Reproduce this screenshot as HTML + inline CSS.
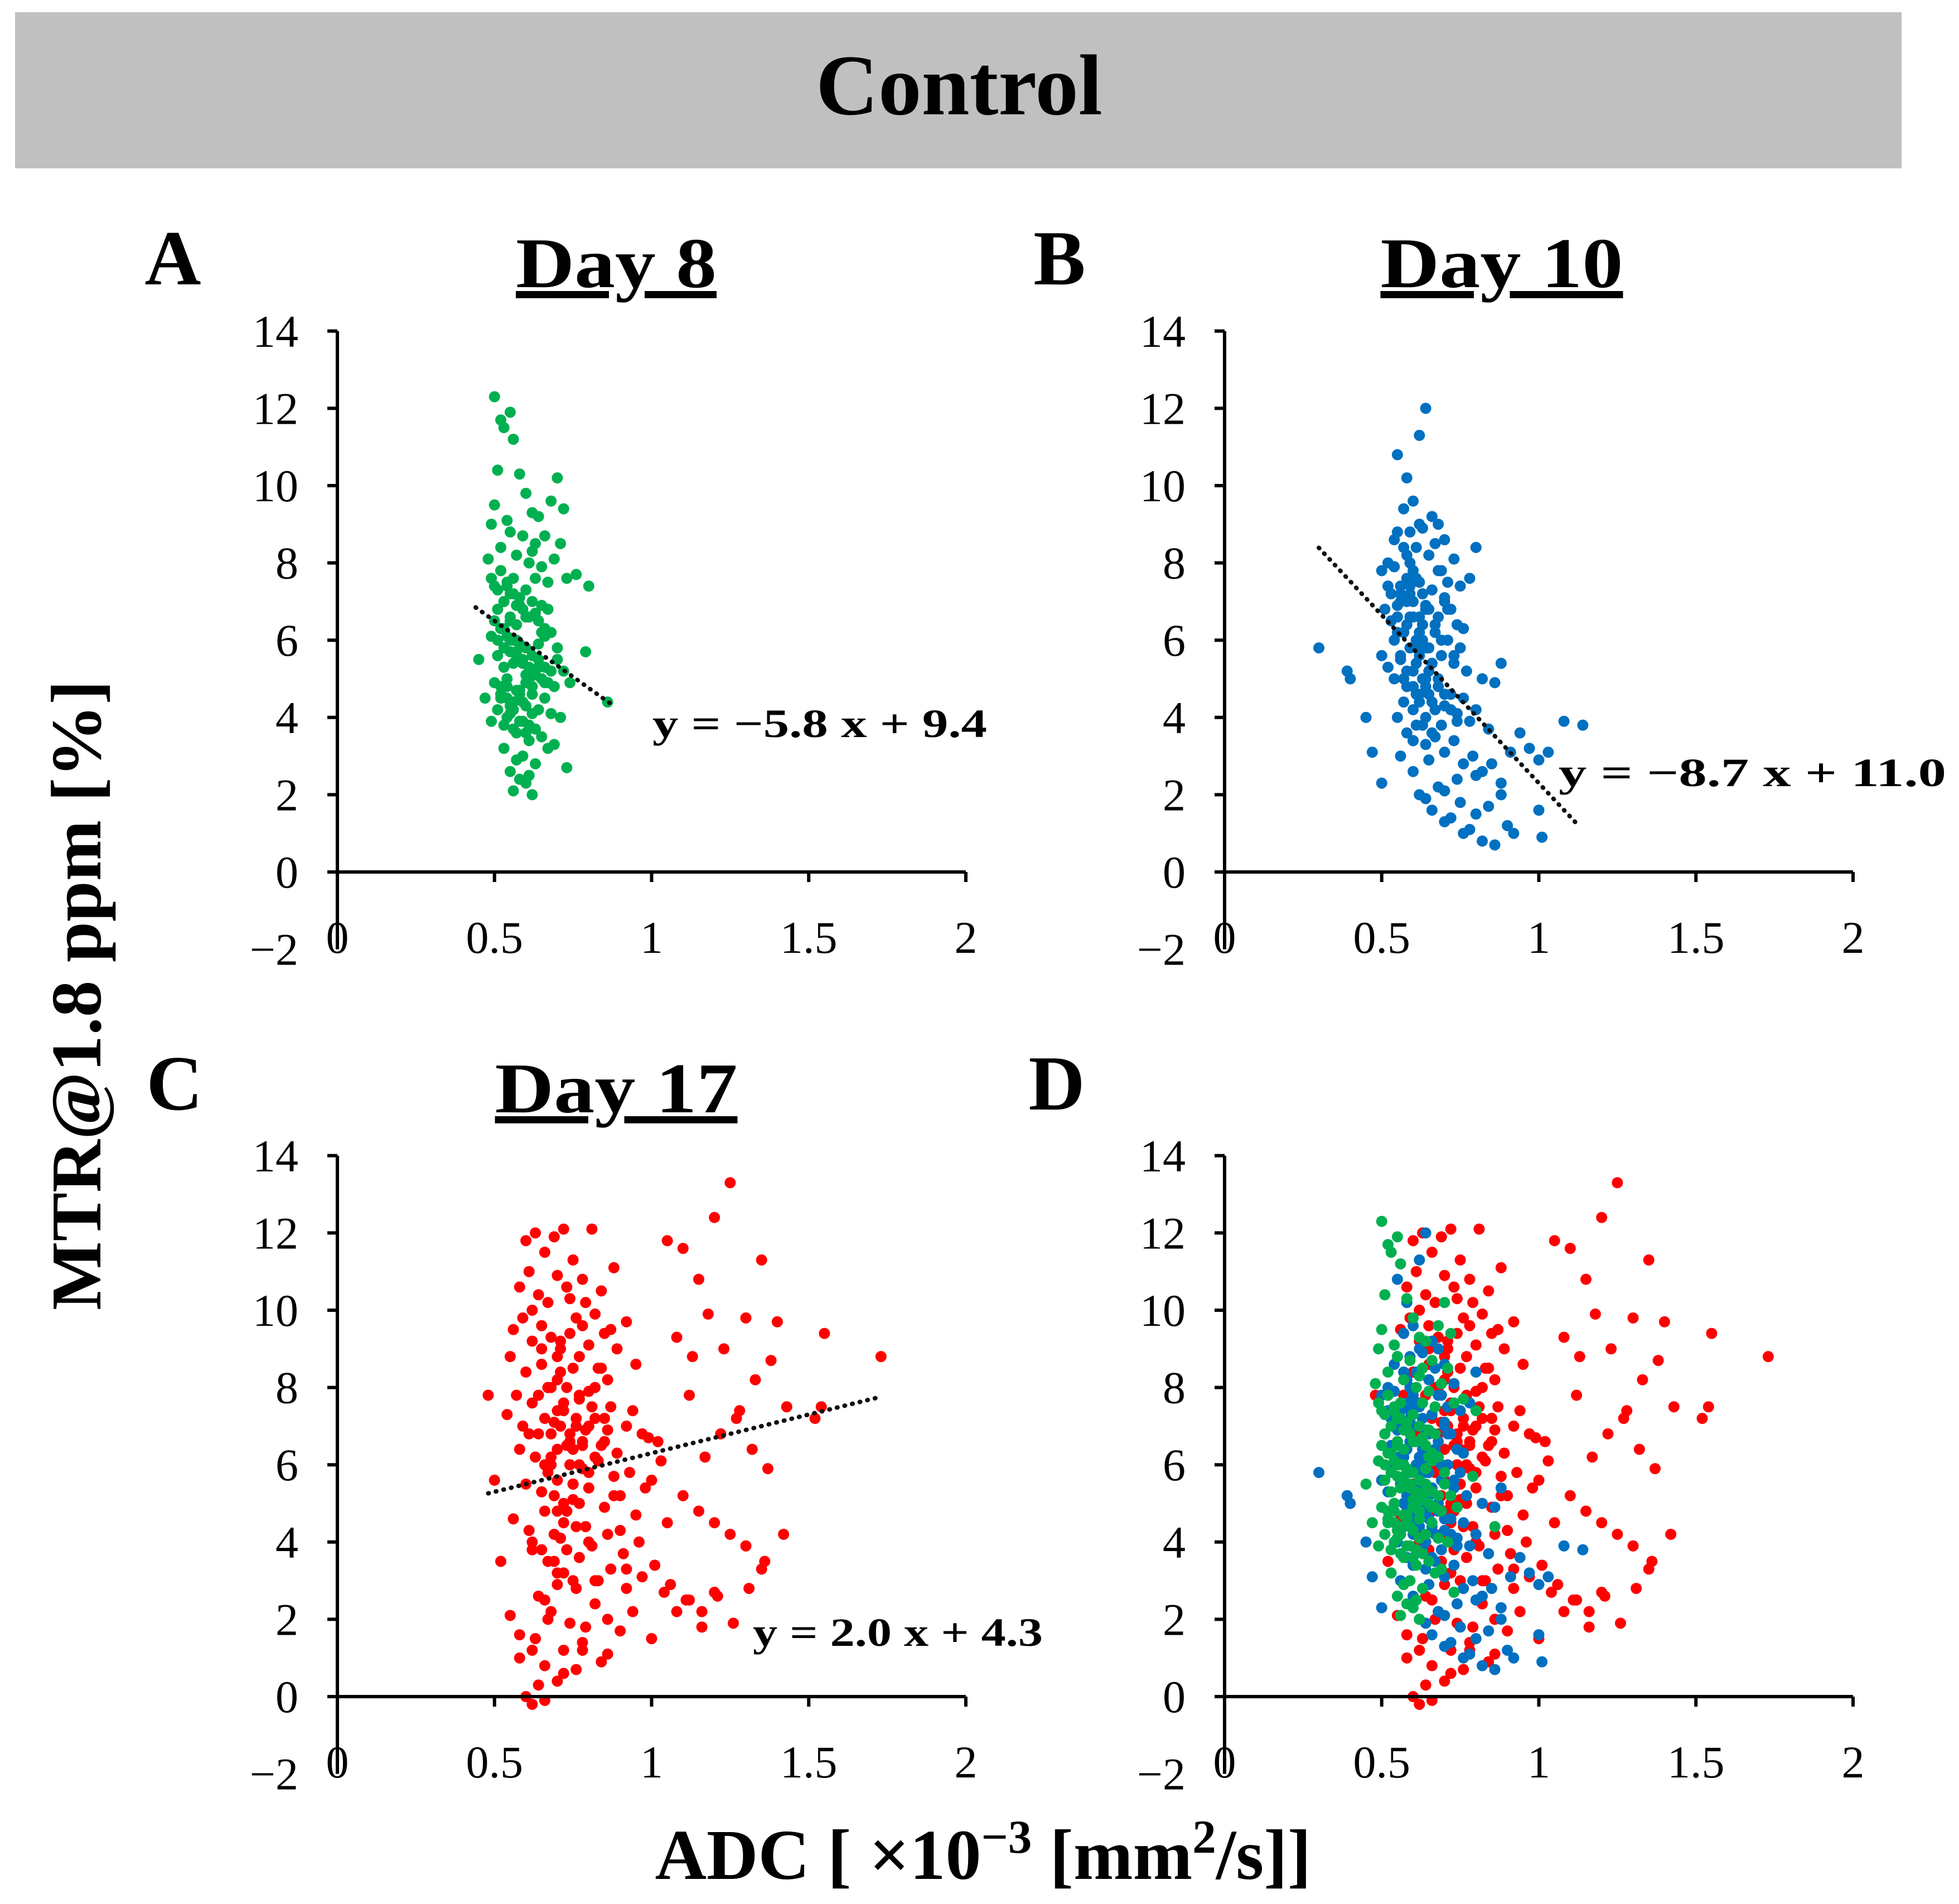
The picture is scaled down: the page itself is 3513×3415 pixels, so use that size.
<!DOCTYPE html>
<html><head><meta charset="utf-8"><style>
html,body{margin:0;padding:0;background:#fff;}
svg{display:block;font-family:"Liberation Serif",serif;}
</style></head><body>
<svg id="fig" width="3513" height="3415" viewBox="0 0 3513 3415" xmlns="http://www.w3.org/2000/svg">
<rect x="27" y="22" width="3383" height="280" fill="#c0c0c0"/>
<text x="1720" y="205" font-size="155" font-weight="bold" text-anchor="middle">Control</text>
<text x="310" y="510" font-size="140" font-weight="bold" text-anchor="middle">A</text>
<text x="1900" y="510" font-size="140" font-weight="bold" text-anchor="middle">B</text>
<text x="313" y="1990" font-size="140" font-weight="bold" text-anchor="middle">C</text>
<text x="1895" y="1990" font-size="140" font-weight="bold" text-anchor="middle">D</text>
<text x="1105" y="515" font-size="128" font-weight="bold" text-anchor="middle" text-decoration="underline" textLength="360" lengthAdjust="spacingAndGlyphs">Day 8</text>
<text x="2693" y="515" font-size="128" font-weight="bold" text-anchor="middle" text-decoration="underline" textLength="435" lengthAdjust="spacingAndGlyphs">Day 10</text>
<text x="1105" y="1995" font-size="128" font-weight="bold" text-anchor="middle" text-decoration="underline" textLength="435" lengthAdjust="spacingAndGlyphs">Day 17</text>
<text transform="translate(180,1785) rotate(-90)" font-size="128" font-weight="bold" text-anchor="middle" textLength="1130" lengthAdjust="spacingAndGlyphs">MTR@1.8 ppm [%]</text>
<text x="1763" y="3370" font-size="128" font-weight="bold" text-anchor="middle">ADC [ ×10<tspan baseline-shift="super" font-size="85">−3</tspan> [mm<tspan baseline-shift="super" font-size="85">2</tspan>/s]]</text>
<text x="1170" y="1322" font-size="72" font-weight="bold" textLength="600" lengthAdjust="spacingAndGlyphs">y = −5.8 x + 9.4</text>
<text x="2795" y="1410" font-size="72" font-weight="bold" textLength="695" lengthAdjust="spacingAndGlyphs">y = −8.7 x + 11.0</text>
<text x="1350" y="2952" font-size="72" font-weight="bold" textLength="520" lengthAdjust="spacingAndGlyphs">y = 2.0 x + 4.3</text>
</svg>
<script>
const xTicks = [0, 0.5, 1, 1.5, 2];
const xTickLabels = ["0", "0.5", "1", "1.5", "2"];
const yTicks = [-2, 0, 2, 4, 6, 8, 10, 12, 14];
const yTickLabels = ["−2", "0", "2", "4", "6", "8", "10", "12", "14"];

const day8X = [0.50,0.52,0.53,0.55,0.56,0.51,0.58,0.60,0.62,0.64,0.66,0.68,0.70,0.72,0.71,0.49,0.50,0.52,0.54,0.55,
0.57,0.59,0.61,0.63,0.65,0.67,0.69,0.73,0.76,0.80,0.48,0.49,0.51,0.52,0.53,0.54,0.55,0.56,0.57,0.58,
0.59,0.60,0.61,0.62,0.63,0.64,0.65,0.66,0.67,0.68,0.50,0.51,0.52,0.53,0.54,0.55,0.56,0.57,0.58,0.59,
0.60,0.61,0.62,0.63,0.64,0.65,0.66,0.67,0.68,0.69,0.50,0.52,0.54,0.56,0.58,0.60,0.62,0.64,0.66,0.68,
0.70,0.72,0.74,0.79,0.86,0.45,0.47,0.49,0.51,0.53,0.55,0.57,0.59,0.61,0.63,0.65,0.67,0.69,0.71,0.73,
0.53,0.55,0.57,0.59,0.61,0.63,0.56,0.58,0.60,0.62,0.54,0.56,0.58,0.60,0.62,0.64,0.55,0.57,0.66,0.70,
0.52,0.54,0.56,0.58,0.60,0.53,0.55,0.57,0.59,0.61,0.52,0.54,0.56,0.58,0.60,0.53,0.55,0.57,0.59,0.61,
0.52,0.54,0.56,0.58,0.60,0.53,0.55,0.57,0.59,0.61,0.50,0.51,0.63,0.64,0.62,0.65,0.49,0.66,0.62,0.51];
const day8Y = [12.3,11.7,11.5,11.9,11.2,10.4,10.3,9.8,9.3,9.2,8.7,9.6,10.2,9.4,8.5,9.0,9.5,8.4,9.1,8.8,
8.2,8.7,8.0,8.5,7.9,7.5,8.1,7.6,7.7,7.4,8.1,7.6,7.3,7.8,7.0,7.4,7.2,7.6,6.9,7.1,
6.8,7.3,6.6,7.0,6.7,6.5,6.9,6.3,6.8,6.2,6.5,6.0,6.3,5.8,6.1,5.7,6.0,5.5,5.9,5.4,
5.8,5.3,5.6,5.1,5.5,5.0,5.3,4.9,5.2,4.8,4.9,4.6,4.8,4.4,4.7,4.3,4.6,4.2,4.5,4.1,
5.5,5.2,4.9,5.7,4.4,5.5,4.5,3.9,4.2,3.8,4.1,3.6,3.9,3.4,3.7,3.5,3.2,3.3,4.0,2.7,
3.2,2.6,2.9,3.0,2.5,2.8,2.1,2.4,2.3,2.0,5.0,5.4,4.7,5.1,4.8,5.3,6.6,6.4,6.1,5.8,
7.8,7.5,7.2,6.9,6.6,6.3,6.0,5.7,5.4,5.1,4.8,4.5,4.2,3.9,3.6,7.0,6.5,6.0,5.5,5.0,
4.5,4.0,3.7,4.6,4.9,5.3,4.3,4.7,4.4,3.8,7.4,6.8,7.6,5.9,4.1,6.2,6.1,4.9,8.3,5.6];

const day10X = [0.55,0.58,0.60,0.62,0.64,0.66,0.68,0.70,0.57,0.59,0.61,0.63,0.65,0.67,0.69,0.71,0.73,0.75,0.52,0.54,
0.50,0.52,0.54,0.56,0.58,0.60,0.62,0.64,0.66,0.68,0.70,0.72,0.74,0.76,0.78,0.80,0.51,0.53,0.55,0.57,
0.59,0.61,0.63,0.65,0.67,0.69,0.71,0.73,0.75,0.77,0.50,0.52,0.54,0.56,0.58,0.60,0.62,0.64,0.66,0.68,
0.70,0.72,0.74,0.76,0.78,0.80,0.82,0.84,0.86,0.88,0.55,0.58,0.61,0.64,0.67,0.70,0.73,0.76,0.79,0.82,
0.85,0.88,0.91,0.94,0.97,1.00,1.03,1.08,1.14,0.30,0.39,0.40,0.45,0.47,0.50,0.60,0.65,0.70,0.75,0.80,
0.62,0.66,0.70,0.74,0.78,0.82,0.86,0.90,0.64,0.68,0.72,0.76,0.80,0.84,0.88,0.92,1.00,1.01,0.56,0.60,
0.56,0.58,0.60,0.62,0.64,0.57,0.59,0.61,0.63,0.65,0.58,0.60,0.62,0.64,0.66,0.55,0.57,0.59,0.61,0.63,
0.55,0.57,0.59,0.61,0.63,0.65,0.67,0.69,0.56,0.58,0.60,0.62,0.64,0.66,0.68,0.70,0.55,0.57,0.59,0.61,
0.63,0.65,0.67,0.69,0.56,0.58,0.60,0.62,0.64,0.66,0.68,0.70,0.72,0.54,0.71,0.73,0.53,0.74,0.62,0.60];
const day10Y = [10.8,10.2,9.6,11.3,12.0,9.2,9.0,8.6,9.4,8.8,8.4,8.9,8.2,8.5,7.8,7.5,8.1,7.4,8.0,8.6,
7.8,7.4,7.9,7.2,7.6,7.0,7.5,6.9,7.3,6.6,7.0,6.8,6.4,6.3,7.6,8.4,6.8,6.5,6.9,6.2,
6.6,6.0,6.4,5.8,6.2,5.6,6.0,5.4,5.8,5.2,5.6,5.3,5.0,5.5,4.8,5.2,4.6,5.0,4.4,4.8,
4.3,4.6,4.1,4.5,3.9,4.2,5.0,3.7,4.9,5.4,4.0,3.6,3.8,3.3,3.5,3.1,3.4,2.8,3.0,2.6,
2.8,2.3,3.1,3.6,3.2,2.9,3.1,3.9,3.8,5.8,5.2,5.0,4.0,3.1,2.3,2.6,2.9,2.1,1.8,1.5,
2.0,1.6,1.3,2.4,1.1,0.8,0.7,1.2,1.9,2.2,1.4,1.0,2.5,1.7,2.0,1.0,1.6,0.9,3.0,3.4,
7.0,6.4,7.8,5.6,6.8,5.0,7.2,4.6,6.0,5.2,8.2,4.2,6.6,4.8,5.4,6.2,4.4,7.4,5.8,3.8,
8.8,8.4,8.0,7.6,7.2,6.8,6.4,6.0,5.6,5.2,4.8,4.4,4.0,3.6,7.8,7.1,6.6,6.2,5.8,5.4,
5.0,4.6,4.2,3.8,7.4,7.0,6.6,6.2,5.8,5.4,5.0,4.6,4.2,6.0,6.8,5.6,7.2,3.9,9.0,3.4];

const day17X = [0.60,0.63,0.66,0.69,0.72,0.75,0.78,0.81,0.84,0.58,0.61,0.64,0.67,0.70,0.73,0.76,0.79,0.82,0.85,0.88,
0.56,0.59,0.62,0.65,0.68,0.71,0.74,0.77,0.80,0.83,0.86,0.89,0.92,0.95,0.55,0.60,0.65,0.70,0.75,0.80,
0.57,0.62,0.67,0.72,0.77,0.82,0.87,0.92,0.97,1.02,0.54,0.59,0.64,0.69,0.74,0.79,0.84,0.89,0.94,0.99,
0.58,0.63,0.68,0.73,0.78,0.83,0.88,0.93,0.98,1.03,0.60,0.65,0.70,0.75,0.80,0.85,0.90,0.95,1.00,1.05,
0.56,0.61,0.66,0.71,0.76,0.81,0.86,0.91,0.96,1.01,0.62,0.67,0.72,0.77,0.82,0.87,0.92,0.97,0.64,0.70,
1.05,1.10,1.15,1.20,1.25,1.30,1.35,1.40,1.08,1.13,1.18,1.23,1.28,1.33,1.38,1.43,1.12,1.17,1.22,1.27,
1.32,1.37,1.10,1.15,1.20,1.25,1.30,1.35,1.06,1.11,1.16,1.21,1.26,1.31,1.36,1.42,1.52,1.55,1.54,1.73,
0.48,0.50,0.52,0.55,0.58,0.62,0.66,0.70,0.74,0.78,0.82,0.86,0.90,0.94,1.00,1.04,1.08,1.12,1.16,1.20,
0.66,0.68,0.70,0.72,0.74,0.76,0.78,0.80,0.67,0.69,0.71,0.73,0.75,0.77,0.79,0.65,0.70,0.75,0.80,0.85,
0.68,0.70,0.72,0.74,0.76,0.71,0.73,0.75,0.69,0.77,0.60,0.62,0.64,0.66,0.58,0.63,0.67,0.72,0.78,0.84,
0.62,0.65,0.68,0.71,0.74,0.77,0.80,0.83,0.86,0.63,0.66,0.69,0.72,0.75,0.78,0.81,0.84,0.87,0.61,0.64,
0.67,0.70,0.73,0.76,0.79,0.82,0.85,0.88,0.90,0.92,0.62,0.66,0.70,0.74,0.78,0.82,0.86,0.68,0.72,0.76];
const day17Y = [11.8,12.0,11.5,11.9,12.1,11.3,10.8,12.1,10.5,10.6,11.0,10.4,10.2,10.9,10.6,9.8,10.2,9.9,9.4,11.1,
9.5,9.8,9.2,9.6,9.3,9.0,9.4,8.8,9.1,8.5,8.2,9.0,9.7,8.6,8.8,8.4,8.6,8.2,8.5,7.9,
7.8,7.6,8.0,7.4,7.7,7.2,7.5,7.0,6.8,6.6,7.3,7.0,6.8,7.1,6.6,6.9,6.5,6.3,7.4,6.7,
6.4,6.2,6.0,6.5,5.9,6.1,5.7,5.8,5.4,6.1,5.5,5.3,5.6,5.1,5.4,4.9,5.2,4.7,5.6,4.5,
4.6,4.3,4.8,4.1,4.4,3.9,4.2,3.7,4.0,3.4,3.8,3.5,3.2,3.6,3.0,3.3,2.8,3.1,2.6,2.9,
11.8,11.6,10.8,12.4,13.3,9.8,11.3,9.7,9.3,8.8,9.9,9.0,7.4,8.2,8.7,7.5,7.8,6.2,6.8,7.2,
6.4,5.9,5.2,4.8,4.5,4.2,3.9,3.3,2.9,2.5,2.2,2.6,1.9,2.8,3.5,4.2,7.2,9.4,7.5,8.8,
7.8,5.6,3.5,2.1,1.6,1.2,0.8,0.4,1.9,1.4,2.4,1.1,1.7,2.2,1.5,2.7,2.2,2.5,1.8,2.7,
7.2,6.8,6.4,7.6,6.0,7.0,6.6,5.8,8.0,5.2,8.4,4.8,5.5,7.8,4.4,3.8,3.2,3.0,7.0,6.6,
6.2,7.4,5.0,6.8,7.2,9.2,8.0,6.4,4.2,6.0,0.0,-0.2,0.3,-0.1,1.0,1.5,2.0,0.6,1.2,0.9,
10.0,9.0,8.0,7.0,6.0,5.0,4.0,3.0,2.0,1.5,2.5,3.5,4.5,5.5,6.5,7.5,8.5,9.5,6.8,7.8,
5.8,4.8,3.8,2.8,1.8,6.2,7.2,5.2,4.3,3.3,4.0,6.0,8.8,10.3,9.6,8.0,6.9,2.2,1.2,0.7];

const fit8 = [-5.8, 9.4, 0.44, 0.87];
const fit10 = [-8.7, 11.0, 0.30, 1.12];
const fit17 = [2.0, 4.3, 0.48, 1.73];

const GREEN = "#00b050", BLUE = "#0070c0", RED = "#ff0000";
const svg = document.getElementById('fig');
const NS = "http://www.w3.org/2000/svg";
const XU = 563.5, YU = 69.3;

function mk(tag, attrs, parent) {
  const e = document.createElementNS(NS, tag);
  for (const k in attrs) e.setAttribute(k, attrs[k]);
  (parent || svg).appendChild(e);
  return e;
}

function panel(name, X0, Y0, series, fit) {
  const g = mk('g', {});
  
  
  const sx = v => X0 + v * XU;
  const sy = v => Y0 - v * YU;
  series.forEach(s => {
    const sg = mk('g', {fill: s.color}, g);
    
    
    const n = Math.min(s.xs.length, s.ys.length);
    for (let i = 0; i < n; i++) {
      const c = mk('circle', {cx: sx(s.xs[i]), cy: sy(s.ys[i]), r: 10}, sg);
      
      
    }
  });
  if (fit) {
    const l = mk('line', {x1: sx(fit[2]), y1: sy(fit[0]*fit[2]+fit[1]), x2: sx(fit[3]), y2: sy(fit[0]*fit[3]+fit[1]),
      stroke: '#111', 'stroke-width': 8, 'stroke-dasharray': '1 13', 'stroke-linecap': 'round'}, g);
    
    
  }
  const ya = mk('line', {x1: X0, y1: sy(14), x2: X0, y2: sy(-2), stroke: '#000', 'stroke-width': 6}, g);
  
  
  const xa = mk('line', {x1: X0 - 18, y1: Y0, x2: sx(2), y2: Y0, stroke: '#000', 'stroke-width': 6}, g);
  
  
  yTicks.forEach((v, i) => {
    if (v >= 0) {
      const t = mk('line', {x1: X0 - 18, y1: sy(v), x2: X0, y2: sy(v), stroke: '#000', 'stroke-width': 6}, g);
      
      
    }
    const tx = mk('text', {x: X0 - 70, y: sy(v) + 28, 'font-size': 82, 'text-anchor': 'end'}, g);
    tx.textContent = yTickLabels[i];
    
    
  });
  xTicks.forEach((v, i) => {
    if (v > 0) {
      const t = mk('line', {x1: sx(v), y1: Y0, x2: sx(v), y2: Y0 + 18, stroke: '#000', 'stroke-width': 6}, g);
      
      
    }
    const tx = mk('text', {x: sx(v), y: Y0 + 145, 'font-size': 82, 'text-anchor': 'middle'}, g);
    tx.textContent = xTickLabels[i];
    
    
  });
}

panel('panel-a-day8', 605, 1564, [{name:'day8', color:GREEN, xs:day8X, ys:day8Y}], fit8);
panel('panel-b-day10', 2196, 1564, [{name:'day10', color:BLUE, xs:day10X, ys:day10Y}], fit10);
panel('panel-c-day17', 605, 3043, [{name:'day17', color:RED, xs:day17X, ys:day17Y}], fit17);
panel('panel-d-combined', 2196, 3043, [
  {name:'day17', color:RED, xs:day17X, ys:day17Y},
  {name:'day10', color:BLUE, xs:day10X, ys:day10Y},
  {name:'day8', color:GREEN, xs:day8X, ys:day8Y}], null);
</script>
</body></html>
